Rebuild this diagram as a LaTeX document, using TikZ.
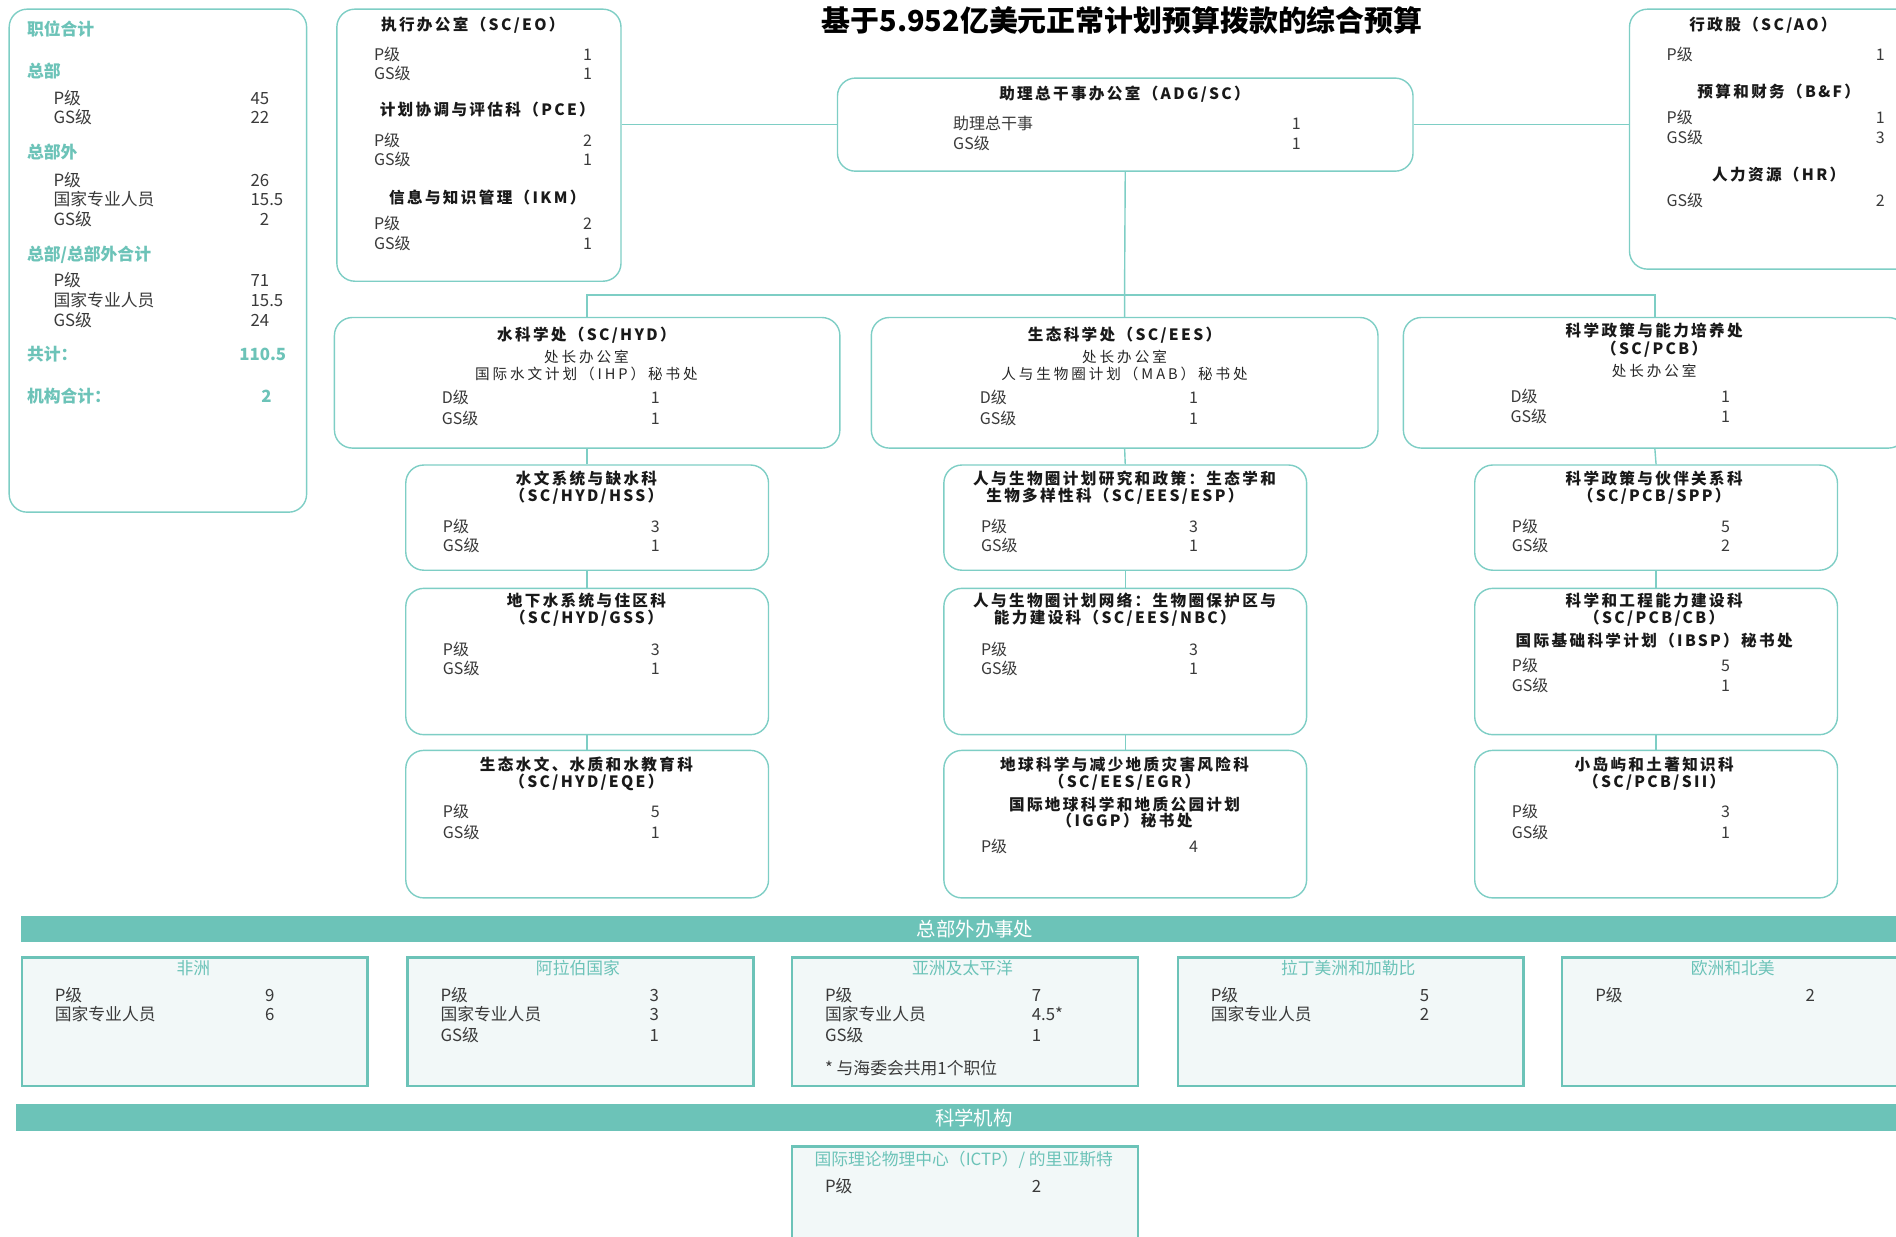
\documentclass[tikz,border=0pt]{standalone}
\usepackage{fontspec}
\setmainfont{Noto Sans CJK SC}
\newfontfamily\spaced[LetterSpace=20]{Noto Sans CJK SC}
\newfontfamily\spacedb[LetterSpace=15]{Noto Sans CJK SC}
\definecolor{teal1}{HTML}{6CC3B8}
\definecolor{line1}{HTML}{7ECEC5}
\definecolor{fillg}{HTML}{F2F8F8}
\definecolor{bodyc}{HTML}{3A3A3A}
\newcounter{nn}
\def\un{0.6046pt}
\newcommand\tx[3][]{\stepcounter{nn}\node[txt,#1] (t\thenn) at (#2) {#3};}
\newcommand\bx[6][rb]{\node[#1,anchor=north west,minimum width={#5*\un},minimum height={#6*\un}] (#2) at (#3,#4) {};}
\newcommand\trow[3]{\tx[lab]{\xl,#1}{#2}\tx[num]{\xn,#1}{#3}}
\newcommand\lrow[3]{\tx[ll]{\xl,#1}{#2}\tx[ln]{\xn,#1}{#3}}
\newcommand\brow[3]{\tx[bl]{\xl,#1}{#2}\tx[bn]{\xn,#1}{#3}}
\newcommand\fbod{\fontsize{8}{9.6}\selectfont}
\newcommand\flb{\fontsize{8.4}{10}\selectfont}
\newcommand\fttl{\spacedb\bfseries\fontsize{7.8}{9}\selectfont}
\newcommand\fsub{\spaced\fontsize{7.3}{8.5}\selectfont}
\begin{document}
\begin{tikzpicture}[x=0.6046pt,y=-0.6046pt,
  fz/.style={text height={0.88*#1pt}, text depth={0.12*#1pt}},
  txt/.style={inner sep=0pt, text=bodyc},
  rb/.style={draw=line1, line width=0.7pt, rounded corners=9pt, fill=white, inner sep=0pt},
  fb/.style={draw=teal1, line width=1.2pt, fill=fillg, inner sep=0pt},
  band/.style={fill=teal1, inner sep=0pt, text=white, anchor=north west, font=\fontsize{9.7}{11}\selectfont, fz=9.7},
  conn/.style={draw=line1, line width=0.7pt},
  lab/.style={anchor=west, font=\fbod, fz=8},
  num/.style={anchor=center, font=\fbod, fz=8},
  hd/.style={anchor=center, font=\fttl, text=black!90, fz=7.8},
  sub/.style={anchor=center, font=\fsub, text=black!85, fz=7.3},
  ll/.style={anchor=west, font=\flb, fz=8.4},
  ln/.style={anchor=east, font=\flb, fz=8.4},
  th/.style={anchor=west, font=\flb\bfseries, text=teal1, fz=8.4},
  bl/.style={anchor=west, font=\flb, fz=8.4},
  bn/.style={anchor=west, font=\flb, fz=8.4},
  bt/.style={anchor=center, font=\flb, text=teal1, fz=8.4},
]
\useasboundingbox (0,0) rectangle (1568,1023);
\clip (0,0) rectangle (1568,1023);

% ---------- boxes ----------
\bx{lbox}{7}{7}{246}{416}
\bx{sec}{278}{7}{235}{225}
\bx{adg}{692}{64}{476}{77}
\bx{ao}{1347}{7}{260}{215}
\bx{hyd}{276}{262}{418}{108}
\bx{ees}{720}{262}{419}{108}
\bx{pcb}{1160}{262}{416}{108}
\bx{hss}{335}{384}{300}{87}
\bx{gss}{335}{486}{300}{121}
\bx{eqe}{335}{620}{300}{122}
\bx{esp}{780}{384}{300}{87}
\bx{nbc}{780}{486}{300}{121}
\bx{egr}{780}{620}{300}{122}
\bx{spp}{1219}{384}{300}{87}
\bx{cb}{1219}{486}{300}{121}
\bx{sii}{1219}{620}{300}{122}

% ---------- connectors ----------
\coordinate (bus) at (930,244);
\draw[conn] (adg.west) -- (adg.west -| sec.east);
\draw[conn] (adg.east) -- (adg.east -| ao.west);
\draw[conn] (adg.south) -- (bus);
\draw[conn] (hyd.north) |- (bus) -| (pcb.north);
\draw[conn] (ees.north) -- (bus);
\draw[conn] (hyd.south) -- (hss.north);
\draw[conn] (hss.south) -- (gss.north);
\draw[conn] (gss.south) -- (eqe.north);
\draw[conn] (ees.south) -- (esp.north);
\draw[conn] (esp.south) -- (nbc.north);
\draw[conn] (nbc.south) -- (egr.north);
\draw[conn] (pcb.south) -- (spp.north);
\draw[conn] (spp.south) -- (cb.north);
\draw[conn] (cb.south) -- (sii.north);

% ---------- title ----------
\tx[anchor=center, font=\bfseries\fontsize{14.45}{16}\selectfont, text=black, fz=14.45]{928,17}{基于5.952亿美元正常计划预算拨款的综合预算}

% ---------- left summary ----------
\tx[th]{22,24}{职位合计}
\tx[th]{22,59}{总部}
\def\xl{44}\def\xn{223}
\lrow{81}{P级}{45}
\lrow{97}{GS级}{22}
\tx[th]{22,126}{总部外}
\lrow{149}{P级}{26}
\lrow{165}{国家专业人员}{15\rlap{.5}}
\lrow{181}{GS级}{2}
\tx[th]{22,210}{总部/总部外合计}
\lrow{232}{P级}{71}
\lrow{248}{国家专业人员}{15\rlap{.5}}
\lrow{265}{GS级}{24}
\tx[th]{22,293}{共计：}
\tx[th,anchor=east]{237,293}{110.5}
\tx[th]{22,328}{机构合计：}
\tx[th,anchor=east]{225,328}{2}

% ---------- SC/EO box ----------
\def\xl{309}\def\xn{486}
\tx[hd]{391,20}{执行办公室（SC/EO）}
\trow{45}{P级}{1}
\trow{61}{GS级}{1}
\tx[hd]{403,91}{计划协调与评估科（PCE）}
\trow{116}{P级}{2}
\trow{132}{GS级}{1}
\tx[hd]{403,163}{信息与知识管理（IKM）}
\trow{185}{P级}{2}
\trow{201}{GS级}{1}

% ---------- ADG ----------
\def\xl{788}\def\xn{1072}
\tx[hd]{930,77}{助理总干事办公室（ADG/SC）}
\trow{102}{助理总干事}{1}
\trow{119}{GS级}{1}

% ---------- AO ----------
\def\xl{1378}\def\xn{1555}
\tx[hd]{1458,20}{行政股（SC/AO）}
\trow{45}{P级}{1}
\tx[hd]{1471,76}{预算和财务（B\&F）}
\trow{97}{P级}{1}
\trow{114}{GS级}{3}
\tx[hd]{1471,144}{人力资源（HR）}
\trow{166}{GS级}{2}

% ---------- HYD column ----------
\tx[hd]{485,277}{水科学处（SC/HYD）}
\tx[sub]{485,295}{处长办公室}
\tx[sub]{485,309}{国际水文计划（IHP）秘书处}
\def\xl{365}\def\xn{542}
\trow{329}{D级}{1}
\trow{346}{GS级}{1}
\def\xl{366}
\tx[hd]{485,396}{水文系统与缺水科}
\tx[hd]{485,410}{（SC/HYD/HSS）}
\trow{435}{P级}{3}
\trow{451}{GS级}{1}
\tx[hd]{485,497}{地下水系统与住区科}
\tx[hd]{485,511}{（SC/HYD/GSS）}
\trow{537}{P级}{3}
\trow{553}{GS级}{1}
\tx[hd]{485,632}{生态水文、水质和水教育科}
\tx[hd]{485,646}{（SC/HYD/EQE）}
\trow{671}{P级}{5}
\trow{688}{GS级}{1}

% ---------- EES column ----------
\tx[hd]{930,277}{生态科学处（SC/EES）}
\tx[sub]{930,295}{处长办公室}
\tx[sub]{930,309}{人与生物圈计划（MAB）秘书处}
\def\xl{810}\def\xn{987}
\trow{329}{D级}{1}
\trow{346}{GS级}{1}
\def\xl{811}
\tx[hd]{930,396}{人与生物圈计划研究和政策：生态学和}
\tx[hd]{922,410}{生物多样性科（SC/EES/ESP）}
\trow{435}{P级}{3}
\trow{451}{GS级}{1}
\tx[hd]{930,497}{人与生物圈计划网络：生物圈保护区与}
\tx[hd]{922,511}{能力建设科（SC/EES/NBC）}
\trow{537}{P级}{3}
\trow{553}{GS级}{1}
\tx[hd]{930,632}{地球科学与减少地质灾害风险科}
\tx[hd]{930,646}{（SC/EES/EGR）}
\tx[hd]{930,665}{国际地球科学和地质公园计划}
\tx[hd]{930,679}{（IGGP）秘书处}
\trow{700}{P级}{4}

% ---------- PCB column ----------
\tx[hd]{1368,273}{科学政策与能力培养处}
\tx[hd]{1368,288}{（SC/PCB）}
\tx[sub]{1368,307}{处长办公室}
\def\xl{1249}\def\xn{1427}
\trow{328}{D级}{1}
\trow{344}{GS级}{1}
\def\xl{1250}
\tx[hd]{1368,396}{科学政策与伙伴关系科}
\tx[hd]{1368,410}{（SC/PCB/SPP）}
\trow{435}{P级}{5}
\trow{451}{GS级}{2}
\tx[hd]{1368,497}{科学和工程能力建设科}
\tx[hd]{1368,511}{（SC/PCB/CB）}
\tx[hd]{1368,530}{国际基础科学计划（IBSP）秘书处}
\trow{550}{P级}{5}
\trow{567}{GS级}{1}
\tx[hd]{1368,632}{小岛屿和土著知识科}
\tx[hd]{1368,646}{（SC/PCB/SII）}
\trow{671}{P级}{3}
\trow{688}{GS级}{1}

% ---------- field offices ----------
\node[band, minimum width={1578*\un}, minimum height={22*\un}] (band1) at (17,757) {总部外办事处};
\bx[fb]{afr}{17}{791}{286}{106}
\bx[fb]{arb}{336}{791}{286}{106}
\bx[fb]{asp}{654}{791}{286}{106}
\bx[fb]{lac}{973}{791}{286}{106}
\bx[fb]{eur}{1291}{791}{286}{106}

\tx[bt]{160,801}{非洲}
\def\xl{45}\def\xn{219}
\brow{823}{P级}{9}
\brow{839}{国家专业人员}{6}

\tx[bt]{478,801}{阿拉伯国家}
\def\xl{364}\def\xn{537}
\brow{823}{P级}{3}
\brow{839}{国家专业人员}{3}
\brow{856}{GS级}{1}

\tx[bt]{796,801}{亚洲及太平洋}
\def\xl{682}\def\xn{853}
\brow{823}{P级}{7}
\brow{839}{国家专业人员}{4.5*}
\brow{856}{GS级}{1}
\tx[bl]{682,883}{* 与海委会共用1个职位}

\tx[bt]{1115,801}{拉丁美洲和加勒比}
\def\xl{1001}\def\xn{1174}
\brow{823}{P级}{5}
\brow{839}{国家专业人员}{2}

\tx[bt]{1433,801}{欧洲和北美}
\def\xl{1319}\def\xn{1493}
\brow{823}{P级}{2}

% ---------- science institutes ----------
\node[band, minimum width={1584*\un}, minimum height={22*\un}] (band2) at (13,913) {科学机构};
\bx[fb]{ictp}{654}{947}{286}{90}
\tx[bt]{797,959}{国际理论物理中心（ICTP）/ 的里亚斯特}
\def\xl{682}\def\xn{853}
\brow{981}{P级}{2}
\end{tikzpicture}
\end{document}
